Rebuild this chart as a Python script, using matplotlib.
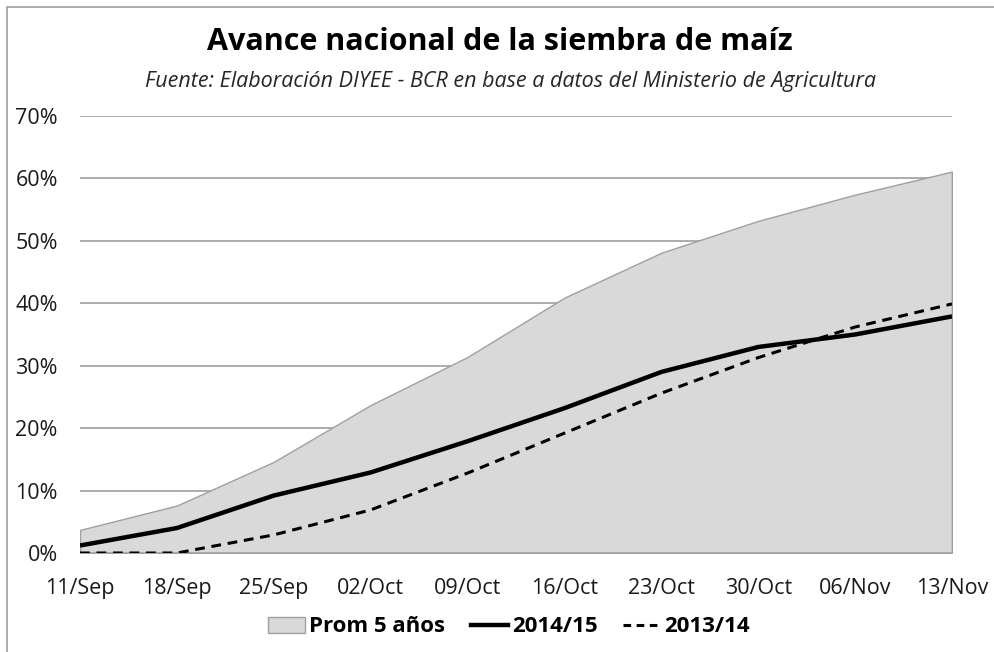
import matplotlib.pyplot as plt
from matplotlib.patches import Rectangle, Patch
from matplotlib.lines import Line2D
from matplotlib.ticker import FuncFormatter

# ============================================================
# DATA
# ============================================================

fechas = ["11/Sep", "18/Sep", "25/Sep", "02/Oct", "09/Oct",
          "16/Oct", "23/Oct", "30/Oct", "06/Nov", "13/Nov"]

prom_5_anios = [3.7, 7.6, 14.6, 23.7, 31.4, 40.9, 48.1, 53.2, 57.4, 61.1]
campania_2014_15 = [1.2, 4.0, 9.2, 12.9, 17.9, 23.2, 29.0, 33.0, 35.0, 37.9]
campania_2013_14 = [0.0, 0.0, 2.9, 6.9, 12.8, 19.2, 25.6, 31.3, 36.2, 39.9]

etiquetas = ["Prom 5 años", "2014/15", "2013/14"]

plt.rcParams['font.family'] = ['Open Sans', 'DejaVu Sans']

fig = plt.figure(figsize=(9.95, 6.52), dpi=100)
ax = fig.add_axes([80 / 995, 1 - 553 / 652, (952 - 80) / 995, (553 - 116) / 652])

x = list(range(len(fechas)))

ax.fill_between(x, 0, prom_5_anios, facecolor="#d9d9d9", edgecolor="#a0a0a0",
                linewidth=1.0, zorder=2)
ax.plot([x[-1], x[-1]], [0, prom_5_anios[-1]], color="#a0a0a0", lw=1.0, zorder=2)
ax.plot(x, campania_2014_15, color="black", lw=3.2, solid_capstyle="butt", zorder=4)
ax.plot(x, campania_2013_14, color="black", lw=2.2, dashes=(3.2, 2.2), zorder=4)

ax.set_xlim(0, len(fechas) - 1)
ax.set_ylim(0, 70)
ax.set_yticks(range(0, 71, 10))
ax.yaxis.set_major_formatter(FuncFormatter(lambda v, p: f"{int(v)}%"))
ax.set_xticks(x)
ax.set_xticklabels(fechas)
ax.grid(axis="y", color="#a6a6a6", lw=1.3, zorder=1)
ax.set_axisbelow(True)
for s in ax.spines.values():
    s.set_visible(False)
ax.axhline(0, color="#a6a6a6", lw=1.3, zorder=3)
ax.tick_params(axis="both", length=0, labelsize=15.5, colors="#1a1a1a")
ax.tick_params(axis="y", pad=16)
ax.tick_params(axis="x", pad=18)

fig.text(500 / 995, 1 - 42 / 652, "Avance nacional de la siembra de maíz",
         ha="center", va="center", fontsize=22, fontweight="bold")
fig.text(511 / 995, 1 - 81 / 652,
         "Fuente: Elaboración DIYEE - BCR en base a datos del Ministerio de Agricultura",
         ha="center", va="center", fontsize=15.5, style="italic", color="#262626")

handles = [
    Patch(facecolor="#d9d9d9", edgecolor="#a0a0a0", linewidth=1.0),
    Line2D([], [], color="black", lw=3.2),
    Line2D([], [], color="black", lw=2.2, dashes=(2.5, 1.8)),
]
leg = fig.legend(handles, etiquetas, loc="center", bbox_to_anchor=(509 / 995, 1 - 627 / 652),
                 ncol=3, frameon=False, fontsize=16, handlelength=1.66,
                 handletextpad=0.18, columnspacing=1.17)
for t in leg.get_texts():
    t.set_fontweight("bold")

# borde del grafico
fig.patches.append(Rectangle((7 / 995, -0.1), 1.2, 1 - 7 / 652 + 0.1,
                             transform=fig.transFigure, fill=False,
                             edgecolor="#a6a6a6", lw=1.3))

fig.savefig("out.png", dpi=100)
